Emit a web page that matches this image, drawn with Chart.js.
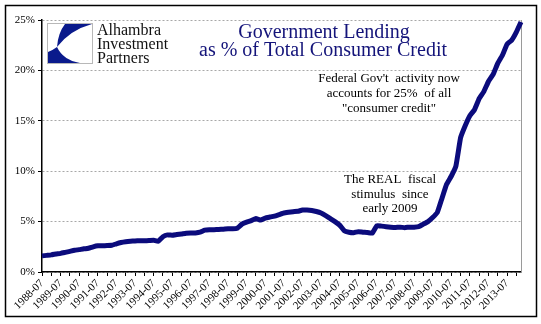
<!DOCTYPE html>
<html>
<head>
<meta charset="utf-8">
<script src="https://cdn.jsdelivr.net/npm/chart.js@4/dist/chart.umd.min.js"></script>
<style>
  body { margin: 0; background: #fff; }
</style>
</head>
<body>
<canvas id="myChart" width="541" height="324"></canvas>
<script>
// gov't lending share of consumer credit, quarterly from 1988-07 to 2014-04
var startYear = 1988;
var quarterMonths = ['07', '10', '01', '04'];
var share = [
    1.6, 1.65, 1.7, 1.78, 1.85, 1.95, 2.05, 2.15, 2.22, 2.3,
    2.35, 2.5, 2.6, 2.6, 2.62, 2.65, 2.8, 2.92, 3.0, 3.05,
    3.08, 3.1, 3.1, 3.12, 3.15, 3.05, 3.5, 3.68, 3.65, 3.72,
    3.78, 3.85, 3.87, 3.88, 3.95, 4.15, 4.2, 4.2, 4.22, 4.25,
    4.3, 4.28, 4.35, 4.75, 4.95, 5.1, 5.3, 5.15, 5.35, 5.45,
    5.55, 5.7, 5.85, 5.92, 5.98, 6.02, 6.15, 6.15, 6.1, 6.0,
    5.85, 5.6, 5.3, 5.0, 4.65, 4.1, 3.95, 3.9, 4.0, 3.95,
    3.92, 3.85, 4.6, 4.55, 4.5, 4.45, 4.42, 4.45, 4.4, 4.45,
    4.45, 4.5, 4.75, 5.0, 5.4, 5.9, 7.3, 8.7, 9.5, 10.5,
    13.3, 14.5, 15.5, 16.1, 17.2, 17.9, 18.9, 19.6, 20.7, 21.5,
    22.6, 23.0, 23.8, 24.8
];
var yTicks = [0, 5, 10, 15, 20, 25];
var titleLines = ['Government Lending', 'as % of Total Consumer Credit'];
var logoLines = ['Alhambra', 'Investment', 'Partners'];
var note1 = ["Federal Gov't  activity now", 'accounts for 25%  of all', '"consumer credit"'];
var note2 = ['The REAL  fiscal', 'stimulus  since', 'early 2009'];

// quarter labels like 1988-07
var labels = [];
for (var i = 0; i < share.length; i++) {
    var yr = startYear + Math.floor((i + 2) / 4);
    labels.push(yr + '-' + quarterMonths[i % 4]);
}

var navy = '#0b0b7c';
var serif = "'Liberation Serif', 'Times New Roman', serif";

var decorations = {
    id: 'decorations',
    beforeDraw: function (chart) {
        var c = chart.ctx;
        c.save();
        c.fillStyle = '#fff';
        c.fillRect(0, 0, chart.width, chart.height);
        c.restore();
    },
    afterDraw: function (chart) {
        var c = chart.ctx;
        c.save();
        // outer frame
        c.strokeStyle = '#000';
        c.lineWidth = 1.5;
        c.strokeRect(5.5, 5.5, 531, 311);

        // logo box
        c.strokeStyle = '#b8b8b8';
        c.lineWidth = 1;
        c.strokeRect(47.5, 23.5, 45, 40);
        c.fillStyle = '#0a1a8c';
        c.beginPath();
        c.moveTo(65, 24);
        c.lineTo(92, 24);
        c.quadraticCurveTo(70, 30, 57, 47);
        c.quadraticCurveTo(58, 33, 65, 24);
        c.fill();
        c.beginPath();
        c.moveTo(57, 47);
        c.quadraticCurveTo(63, 60, 80, 63);
        c.lineTo(48, 63);
        c.lineTo(48, 52);
        c.quadraticCurveTo(53, 50, 57, 47);
        c.fill();

        c.fillStyle = '#111';
        c.font = '16px ' + serif;
        c.textAlign = 'left';
        c.textBaseline = 'alphabetic';
        logoLines.forEach(function (t, k) {
            c.fillText(t, 97, 35 + k * 14);
        });

        // title
        c.fillStyle = '#14147a';
        c.font = '20px ' + serif;
        c.textAlign = 'center';
        c.fillText(titleLines[0], 324, 38);
        c.fillText(titleLines[1], 323, 56);

        // notes
        c.fillStyle = '#000';
        c.font = '13px ' + serif;
        note1.forEach(function (t, k) {
            c.fillText(t, 389, 82 + k * 15);
        });
        note2.forEach(function (t, k) {
            c.fillText(t, 390, 183 + k * 14.5);
        });
        c.restore();
    }
};

var ctx = document.getElementById('myChart').getContext('2d');
var myChart = new Chart(ctx, {
    type: 'line',
    data: {
        labels: labels,
        datasets: [{
            data: share,
            borderColor: navy,
            borderWidth: 5,
            pointRadius: 0,
            tension: 0.1,
            fill: false
        }]
    },
    options: {
        responsive: false,
        animation: false,
        layout: { padding: { left: 6, top: 20, right: 20, bottom: 8 } },
        plugins: {
            legend: { display: false },
            tooltip: { enabled: false }
        },
        scales: {
            x: {
                grid: {
                    drawOnChartArea: false,
                    tickLength: 4,
                    tickColor: function (c) { return c.index % 2 ? 'rgba(0,0,0,0)' : '#000'; }
                },
                border: { color: '#000', width: 1.5 },
                ticks: {
                    autoSkip: false,
                    minRotation: 45,
                    maxRotation: 45,
                    padding: 1,
                    color: '#000',
                    font: { family: serif, size: 11 },
                    callback: function (v, i) { return i % 4 === 0 ? labels[i] : ''; }
                },
                afterFit: function (s) { s.height = 44; }
            },
            y: {
                min: 0,
                max: 25,
                afterBuildTicks: function (s) { s.ticks = yTicks.map(function (v) { return { value: v }; }); },
                grid: { color: '#a8a8a8', lineWidth: 1, tickLength: 4, tickColor: '#000' },
                border: { color: '#000', width: 1.5, dash: [2, 2] },
                ticks: {
                    padding: 3,
                    color: '#000',
                    font: { family: serif, size: 11 },
                    callback: function (v) { return v + '%'; }
                },
                afterFit: function (s) { s.width = 36; }
            },
            y2: {
                position: 'right',
                grid: { display: false, drawTicks: false },
                border: { color: '#9a9a9a', width: 1 },
                ticks: { display: false },
                afterFit: function (s) { s.width = 0; }
            }
        }
    },
    plugins: [decorations]
});
</script>
</body>
</html>
